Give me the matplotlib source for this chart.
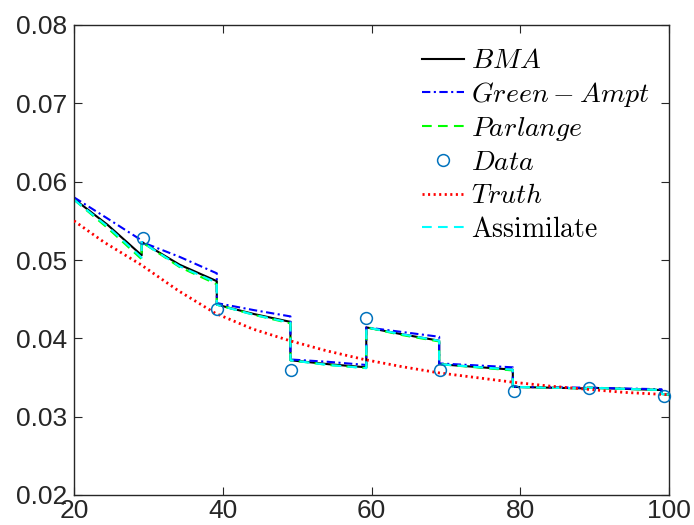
import matplotlib
matplotlib.use("Agg")
import matplotlib.pyplot as plt

plt.rcParams['mathtext.fontset'] = 'cm'
plt.rcParams['lines.scale_dashes'] = False

# ---- data ----
time = [20, 24.5, 29.1, 29.1, 34.2, 39.2, 39.2, 44.2, 49.1, 49.1, 54.2, 59.3,
        59.3, 64.2, 69.1, 69.1, 79.0, 79.0, 89.0, 89.0, 99.0, 99.0, 100]
bma = [.0578, .0545, .0506, .0523, .0494, .0473, .0443, .0431, .0421, .0372, .0367, .0363,
       .0414, .0405, .0397, .0367, .0360, .0338, .0336, .0337, .0334, .0329, .0328]
green_ampt = [.0580, .0553, .0525, .0523, .0504, .0483, .0445, .0436, .0428, .0373, .0370, .0366,
              .0414, .0408, .0402, .0368, .0363, .0338, .0337, .0337, .0335, .0329, .0328]
parlange = [.0577, .0541, .0501, .0523, .0491, .0469, .0443, .0430, .0419, .0372, .0366, .0362,
            .0414, .0404, .0396, .0367, .0359, .0338, .0336, .0337, .0334, .0329, .0328]
assimilate = [.0577, .0543, .0503, .0523, .0492, .0471, .0443, .0430, .0420, .0372, .0366, .0362,
              .0414, .0405, .0397, .0367, .0360, .0338, .0336, .0337, .0334, .0329, .0328]

data_x = [29.3, 39.2, 49.2, 59.3, 69.2, 79.1, 89.3, 99.3]
data_y = [0.0528, 0.0437, 0.0360, 0.0426, 0.0360, 0.0333, 0.0337, 0.0326]

truth_x = [20, 24, 29, 34, 39, 44, 49, 54, 59, 64, 69, 74, 79, 84, 89, 94, 100]
truth_y = [0.0550, 0.0523, 0.0494, 0.0461, 0.0432, 0.0412, 0.0397, 0.0384, 0.0373,
           0.0364, 0.0356, 0.0350, 0.0344, 0.0339, 0.0335, 0.0331, 0.0328]

labels = [r'$BMA$', r'$Green-Ampt$', r'$Parlange$', r'$Data$', r'$Truth$', r'$\mathrm{Assimilate}$']
x_ticks = [20, 40, 60, 80, 100]
y_ticks = [0.02, 0.03, 0.04, 0.05, 0.06, 0.07, 0.08]

fig = plt.figure(figsize=(6.94, 5.25), dpi=100)
ax = fig.add_axes([74/694, 30/525, (669-74)/694, (495-25)/525])

lw = 1.5
ax.plot(time, bma, color='k', lw=lw, label=labels[0])
ax.plot(time, green_ampt, color='#0000FF', lw=lw, dashes=(6, 2.5, 1.5, 2.5), label=labels[1])
ax.plot(time, parlange, color='#00FF00', lw=lw, dashes=(7, 4.5), label=labels[2])
ax.plot(data_x, data_y, ls='none', marker='o', ms=8.5, mfc='none', mec='#0072BD', mew=1.1,
        label=labels[3], clip_on=False, zorder=5)
ax.plot(truth_x, truth_y, color='#FF0000', lw=2, dashes=(1.5, 2.5), label=labels[4], zorder=4)
ax.plot(time, assimilate, color='#00FFFF', lw=lw, dashes=(7, 4.5), label=labels[5])

ax.set_xlim(20, 100)
ax.set_ylim(0.02, 0.08)
ax.set_xticks(x_ticks)
ax.set_yticks(y_ticks)
ax.set_xticklabels([str(v) for v in x_ticks])
ax.set_yticklabels(['%.2f' % v for v in y_ticks])

axcol = '#262626'
for s in ax.spines.values():
    s.set_color(axcol)
    s.set_linewidth(1.0)
ax.tick_params(direction='in', length=5.5, width=0.8, colors=axcol, labelsize=19,
               top=True, right=True, pad=3)
ax.tick_params(axis='y', pad=5)
for t in ax.get_xticklabels() + ax.get_yticklabels():
    t.set_fontfamily('Liberation Sans')

leg = ax.legend(loc='upper right', bbox_to_anchor=(1.0, 0.996), frameon=False, fontsize=20,
                handlelength=1.5, handletextpad=0.25, labelspacing=0.19, borderaxespad=0.3)

fig.savefig('out.png', dpi=100)
